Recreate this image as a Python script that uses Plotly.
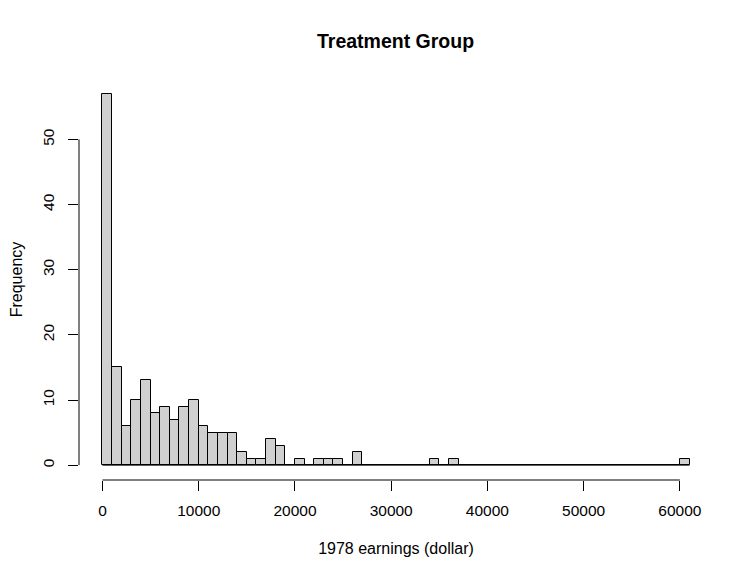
import plotly.graph_objects as go

# histogram of 1978 earnings, treatment group (bins of 1000 dollars)
bin_width = 1000
bin_starts = list(range(0, 61000, 1000))
counts = [57, 15, 6, 10, 13, 8, 9, 7, 9, 10,
          6, 5, 5, 5, 2, 1, 1, 4, 3, 0,
          1, 0, 1, 1, 1, 0, 2, 0, 0, 0,
          0, 0, 0, 0, 1, 0, 1, 0, 0, 0,
          0, 0, 0, 0, 0, 0, 0, 0, 0, 0,
          0, 0, 0, 0, 0, 0, 0, 0, 0, 0,
          1]
x_ticks = [0, 10000, 20000, 30000, 40000, 50000, 60000]
y_ticks = [0, 10, 20, 30, 40, 50]

centers = [s + bin_width / 2 for s in bin_starts]
x_lo, x_hi = bin_starts[0], bin_starts[-1] + bin_width
y_hi = max(counts)
pad_x = 0.04 * (x_hi - x_lo)
pad_y = 0.04 * y_hi

font = 'Liberation Sans, Arial, Helvetica, sans-serif'
tick_font = dict(family=font, size=15.5, color='black')

fig = go.Figure()
fig.add_trace(go.Bar(
    x=centers, y=counts, width=bin_width,
    marker=dict(color='#D0D0D0', line=dict(color='black', width=1)),
    hovertemplate='%{x}<br>%{y}<extra></extra>'
))
# baseline under empty bins, like R's outlined zero-height bars
fig.add_trace(go.Scatter(x=[x_lo, x_hi], y=[0, 0], mode='lines',
                         line=dict(color='black', width=1), hoverinfo='skip'))

# detached R-style axis lines spanning the tick range
fig.add_shape(type='line', xref='x', yref='paper', x0=x_ticks[0], x1=x_ticks[-1],
              y0=0, y1=0, line=dict(color='black', width=1))
fig.add_shape(type='line', xref='paper', yref='y', x0=0, x1=0,
              y0=y_ticks[0], y1=y_ticks[-1], line=dict(color='black', width=1))

# the page adds an 8px body margin, so the margins are reduced by it
fig.update_layout(
    width=754, height=578,
    margin=dict(l=71, r=49, t=71, b=106),
    plot_bgcolor='white', paper_bgcolor='white',
    showlegend=False, bargap=0,
    font=dict(family=font, size=16, color='black'),
    title=dict(text='<b>Treatment Group</b>', x=0.514, xanchor='center',
               y=1 - 33 / 578, yanchor='middle', font=dict(size=19.5)),
)
fig.update_xaxes(range=[x_lo - pad_x, x_hi + pad_x], tickvals=x_ticks,
                 ticktext=[str(t) for t in x_ticks], tickfont=tick_font,
                 ticks='outside', ticklen=10, tickcolor='black',
                 showgrid=False, zeroline=False, showline=False, automargin=False,
                 ticklabelstandoff=6,
                 title=dict(text='1978 earnings (dollar)', standoff=25,
                            font=dict(size=16)))
fig.update_yaxes(range=[-pad_y, y_hi + pad_y], tickvals=y_ticks,
                 ticktext=[str(t) for t in y_ticks], tickfont=tick_font,
                 ticks='outside', ticklen=10, tickcolor='black', tickangle=-90,
                 showgrid=False, zeroline=False, showline=False, automargin=False,
                 ticklabelstandoff=8,
                 title=dict(text='Frequency', standoff=21, font=dict(size=16)))

fig.write_html("out.html")
